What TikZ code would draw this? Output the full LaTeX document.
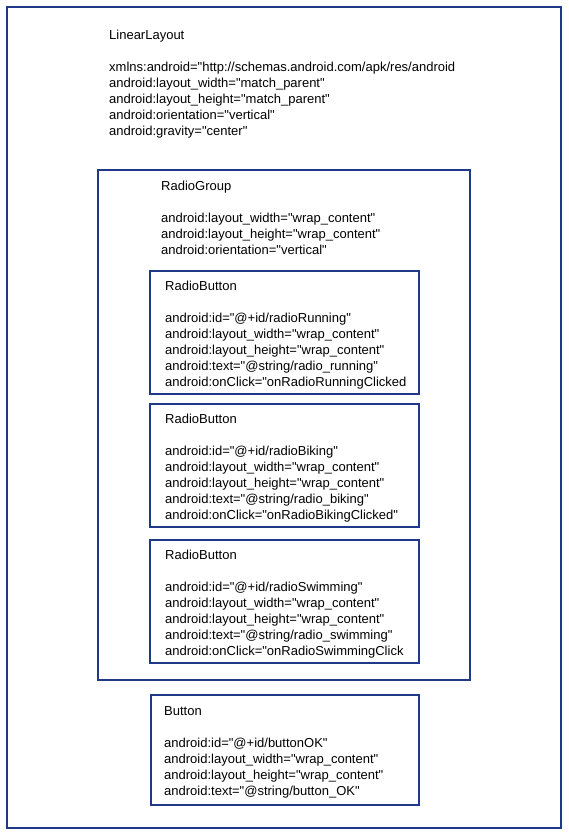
\documentclass[tikz,border=0pt]{standalone}
\usepackage{fontspec}
\setmainfont{Liberation Sans}[Ligatures=TeXOff]
\definecolor{frame}{RGB}{31,56,136}
\newcommand{\txtline}[1]{\hbox{\strut #1}}
\begin{document}
\begin{tikzpicture}[x=1pt,y=-1pt,
  box/.style={draw=frame,line width=2.5pt},
  txt/.style={anchor=base west,inner sep=0pt,font=\fontsize{13}{16}\selectfont}]
\useasboundingbox (0,0) rectangle (569,835);
\fill[white] (0,0) rectangle (569,835);
% outer LinearLayout
\draw[box] (7,7) rectangle (561,828);
\node[txt] (ll) at (109,39) {\vtop{\baselineskip=16pt\lineskiplimit=-20pt\txtline{LinearLayout}\txtline{}\txtline{xmlns:android="http://schemas.android.com/apk/res/android}\txtline{android:layout\_width="match\_parent"}\txtline{android:layout\_height="match\_parent"}\txtline{android:orientation="vertical"}\txtline{android:gravity="center"}}};
% RadioGroup
\draw[box] (98,170) rectangle (470,680);
\node[txt] (rg) at (161,190) {\vtop{\baselineskip=16pt\lineskiplimit=-20pt\txtline{RadioGroup}\txtline{}\txtline{android:layout\_width="wrap\_content"}\txtline{android:layout\_height="wrap\_content"}\txtline{android:orientation="vertical"}}};
% RadioButton 1
\draw[box] (150,271) rectangle (419,394);
\node[txt] (rb1) at (165,290) {\vtop{\baselineskip=16pt\lineskiplimit=-20pt\txtline{RadioButton}\txtline{}\txtline{android:id="@+id/radioRunning"}\txtline{android:layout\_width="wrap\_content"}\txtline{android:layout\_height="wrap\_content"}\txtline{android:text="@string/radio\_running"}\txtline{android:onClick="onRadioRunningClicked}}};
% RadioButton 2
\draw[box] (150,404) rectangle (419,527);
\node[txt] (rb2) at (165,423) {\vtop{\baselineskip=16pt\lineskiplimit=-20pt\txtline{RadioButton}\txtline{}\txtline{android:id="@+id/radioBiking"}\txtline{android:layout\_width="wrap\_content"}\txtline{android:layout\_height="wrap\_content"}\txtline{android:text="@string/radio\_biking"}\txtline{android:onClick="onRadioBikingClicked"}}};
% RadioButton 3
\draw[box] (150,540) rectangle (419,663);
\node[txt] (rb3) at (165,559) {\vtop{\baselineskip=16pt\lineskiplimit=-20pt\txtline{RadioButton}\txtline{}\txtline{android:id="@+id/radioSwimming"}\txtline{android:layout\_width="wrap\_content"}\txtline{android:layout\_height="wrap\_content"}\txtline{android:text="@string/radio\_swimming"}\txtline{android:onClick="onRadioSwimmingClick}}};
% Button
\draw[box] (151,695) rectangle (419,805);
\node[txt] (bt) at (164,715) {\vtop{\baselineskip=16pt\lineskiplimit=-20pt\txtline{Button}\txtline{}\txtline{android:id="@+id/buttonOK"}\txtline{android:layout\_width="wrap\_content"}\txtline{android:layout\_height="wrap\_content"}\txtline{android:text="@string/button\_OK"}}};
\end{tikzpicture}
\end{document}
